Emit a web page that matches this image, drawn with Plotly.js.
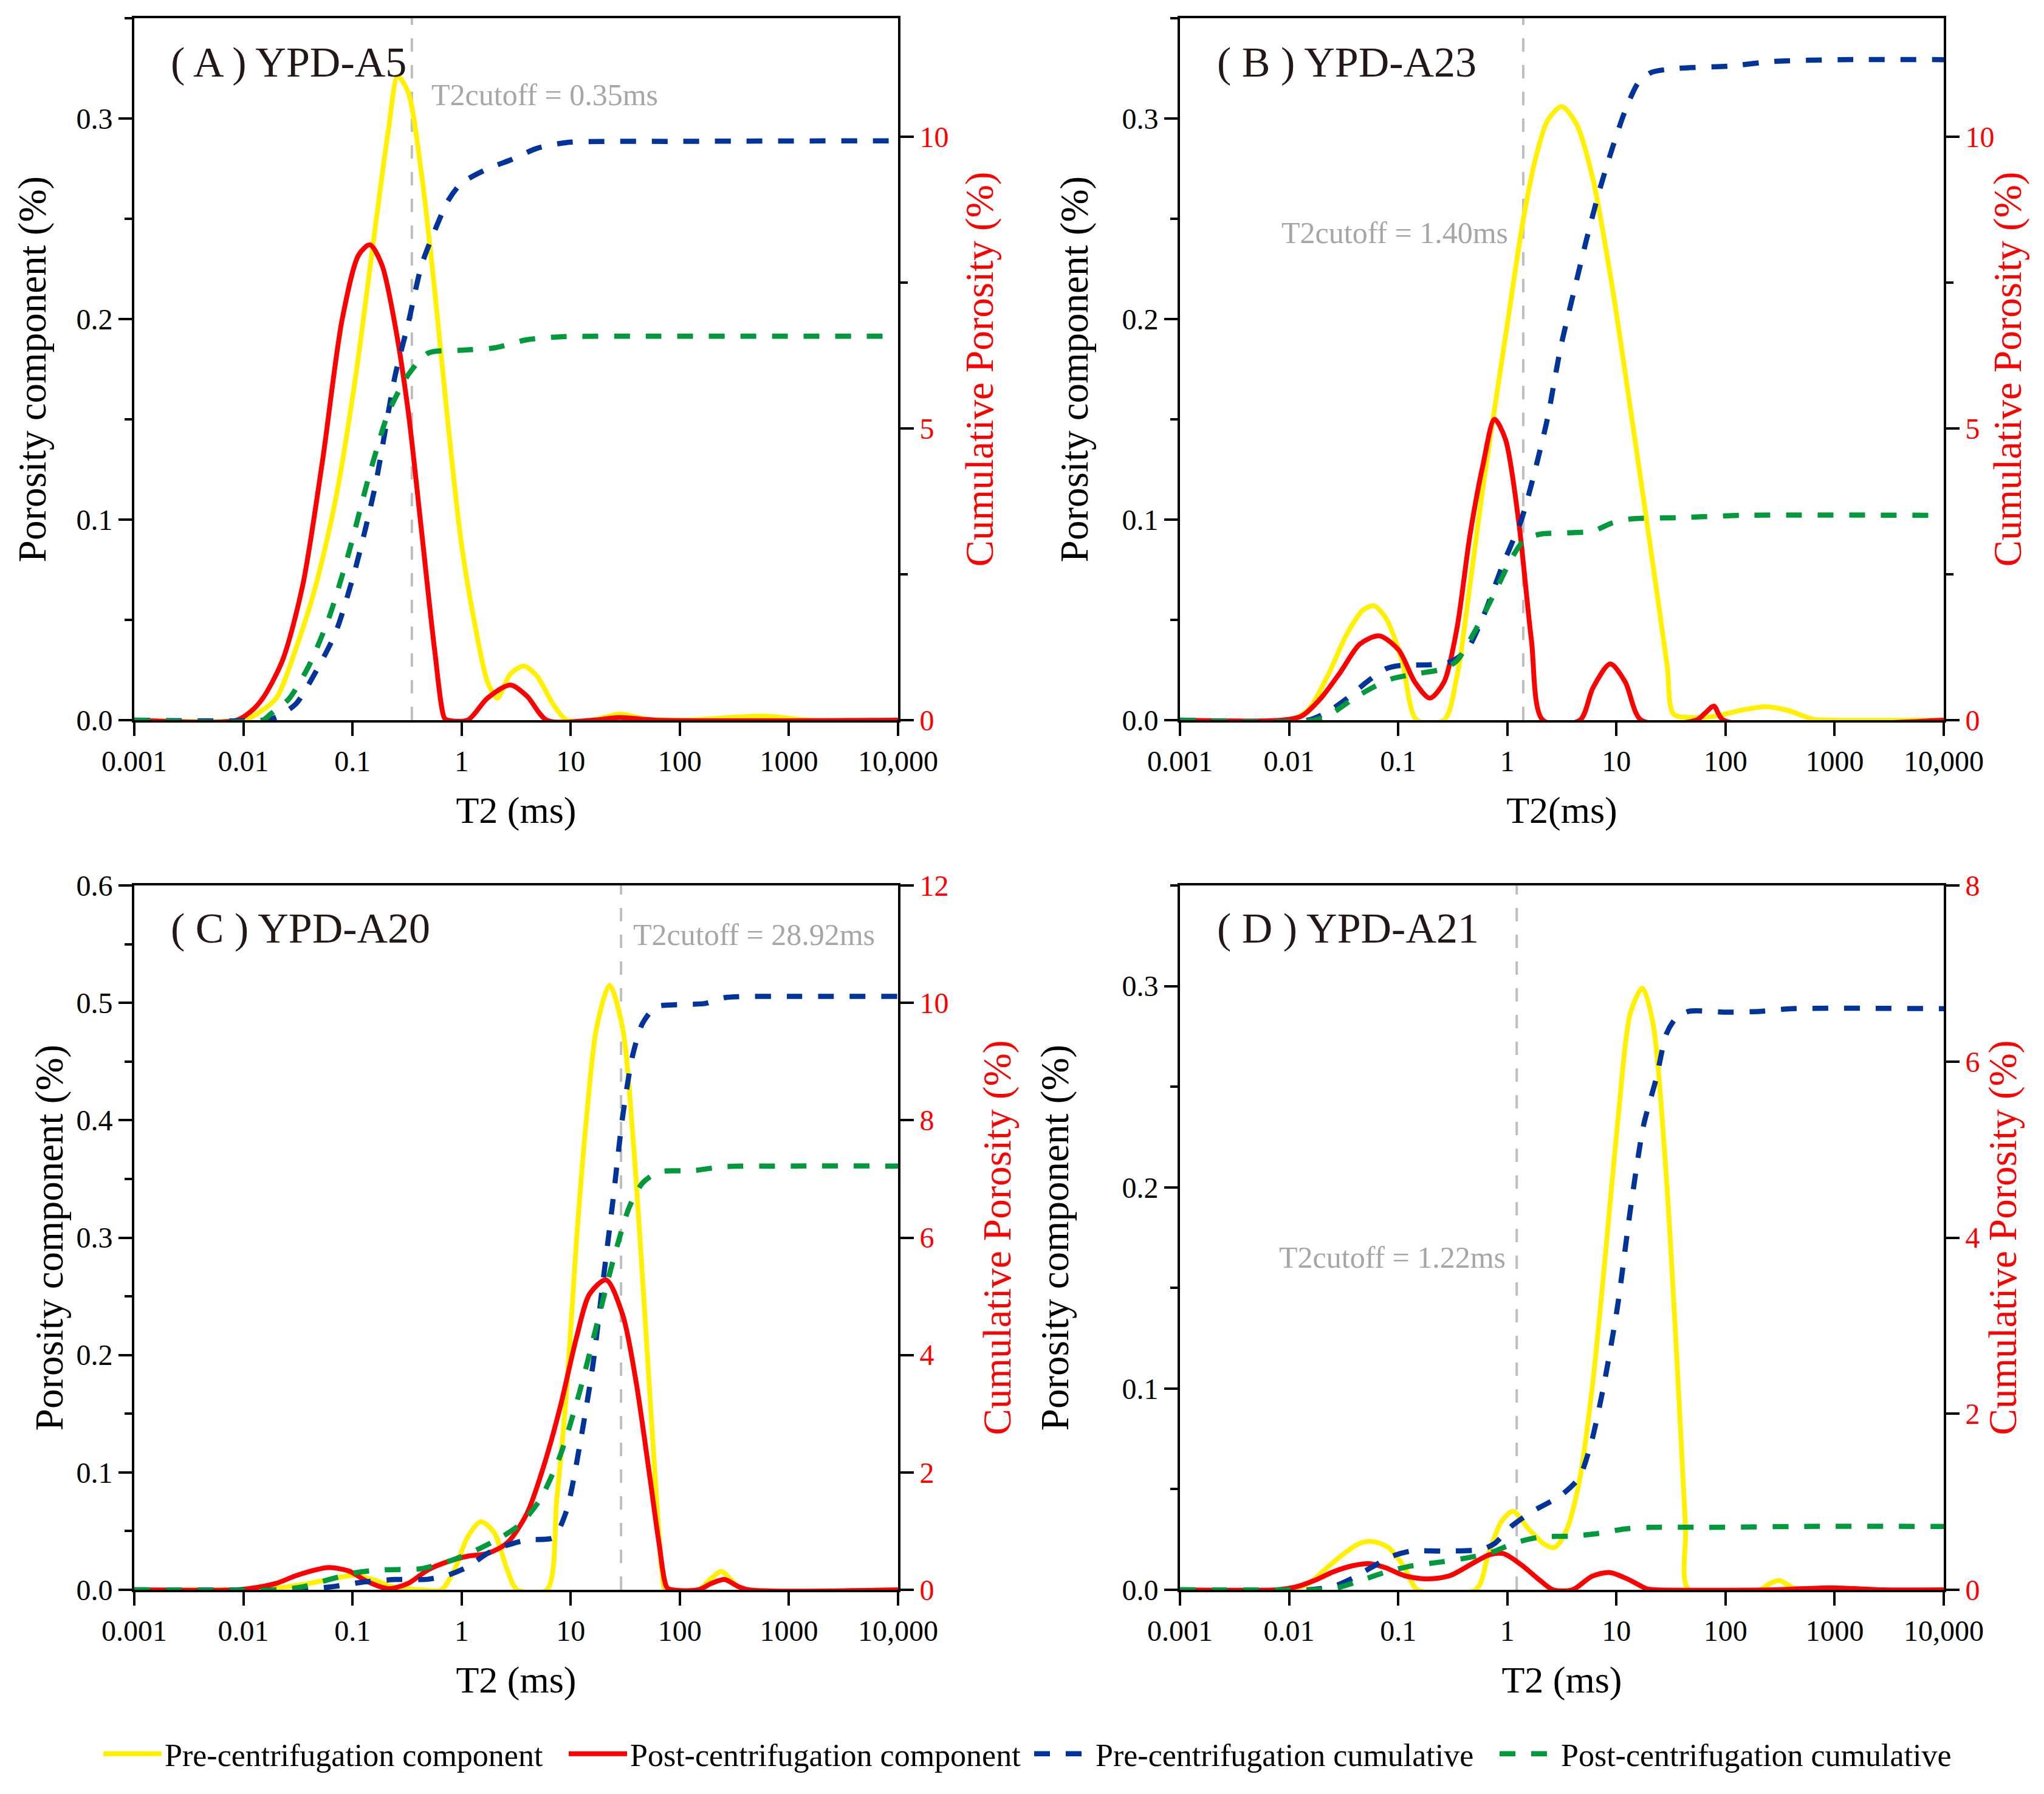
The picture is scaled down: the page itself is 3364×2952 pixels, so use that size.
<!DOCTYPE html>
<html><head><meta charset="utf-8">
<script src="https://cdn.plot.ly/plotly-3.0.1.min.js"></script>
<style>html,body{margin:0;padding:0;background:#fff}</style>
</head><body><div id="chart" style="width:3364px;height:2952px"></div>
<script>
// ---------- data ----------
const xTickVals = [0.001, 0.01, 0.1, 1, 10, 100, 1000, 10000];
const xTickText = ['0.001', '0.01', '0.1', '1', '10', '100', '1000', '10,000'];
const sampleNames = ['( A ) YPD-A5', '( B ) YPD-A23', '( C ) YPD-A20', '( D ) YPD-A21'];
const cutoffs = [0.35, 1.40, 28.92, 1.22];
const seriesNames = ['Pre-centrifugation component', 'Post-centrifugation component', 'Pre-centrifugation cumulative', 'Post-centrifugation cumulative'];

// Panel A
const A_pre_T = [0.001, 0.01, 0.0132, 0.02, 0.03, 0.046, 0.07, 0.106, 0.161, 0.213, 0.26, 0.324, 0.43, 0.57, 0.75, 0.99, 1.31, 1.73, 2.12, 2.8, 3.7, 4.9, 6.9, 9.2, 16, 28, 49, 110, 600, 1500, 10000];
const A_pre = [0, 0, 0.003, 0.011, 0.035, 0.067, 0.11, 0.17, 0.245, 0.294, 0.321, 0.313, 0.272, 0.213, 0.148, 0.089, 0.049, 0.019, 0.011, 0.023, 0.027, 0.022, 0.008, 0, 0, 0.003, 0.0005, 0, 0.002, 0, 0];
const A_post_T = [0.001, 0.0087, 0.0115, 0.0151, 0.0229, 0.0349, 0.053, 0.0805, 0.114, 0.1445, 0.186, 0.2455, 0.324, 0.43, 0.566, 0.697, 0.75, 1.135, 1.73, 2.8, 3.97, 6.04, 16, 28, 60, 10000];
const A_post = [0, 0, 0.004, 0.011, 0.030, 0.067, 0.129, 0.20, 0.232, 0.237, 0.227, 0.197, 0.154, 0.094, 0.035, 0.001, 0, 0, 0.011, 0.0175, 0.012, 0, 0, 0.0013, 0, 0];
const A_preCum_T = [0.001, 0.0151, 0.02, 0.0303, 0.0461, 0.07, 0.1064, 0.161, 0.2455, 0.324, 0.43, 0.57, 0.75, 0.99, 1.73, 2.8, 4.9, 9.2, 100, 10000];
const A_preCum = [0, 0, 0.05, 0.28, 0.83, 1.5, 2.6, 4.0, 5.9, 6.8, 7.8, 8.4, 8.9, 9.2, 9.45, 9.6, 9.8, 9.9, 9.92, 9.93];
const A_postCum_T = [0.001, 0.0151, 0.0174, 0.0263, 0.0398, 0.061, 0.0925, 0.1406, 0.2133, 0.324, 0.492, 0.99, 1.98, 3.97, 7.98, 63, 10000];
const A_postCum = [0, 0, 0.09, 0.37, 0.93, 1.76, 2.87, 4.16, 5.27, 5.92, 6.29, 6.34, 6.38, 6.52, 6.57, 6.58, 6.58];

// Panel B
const B_pre_T = [0.001, 0.0099, 0.0149, 0.0225, 0.0339, 0.0478, 0.0601, 0.0769, 0.108, 0.148, 0.263, 0.346, 0.454, 0.597, 0.783, 1.03, 1.355, 1.778, 2.34, 3.155, 4.325, 6.08, 9.16, 13.8, 20.8, 29.2, 33.5, 54, 81.5, 140.6, 227, 366, 632, 953, 10000];
const B_pre = [0, 0, 0.005, 0.022, 0.043, 0.055, 0.057, 0.051, 0.030, 0, 0, 0.022, 0.067, 0.116, 0.159, 0.202, 0.245, 0.278, 0.299, 0.306, 0.297, 0.270, 0.216, 0.151, 0.084, 0.027, 0.003, 0.0013, 0.002, 0.005, 0.0067, 0.005, 0.0005, 0, 0];
const B_post_T = [0.001, 0.00865, 0.013, 0.0196, 0.0296, 0.0446, 0.0671, 0.101, 0.142, 0.195, 0.263, 0.346, 0.454, 0.597, 0.764, 0.962, 1.265, 1.663, 2.12, 4.63, 6.08, 8.79, 12.05, 16.9, 54, 66.4, 78.2, 96, 10000];
const B_post = [0, 0, 0.002, 0.011, 0.024, 0.038, 0.042, 0.035, 0.019, 0.011, 0.019, 0.046, 0.092, 0.127, 0.150, 0.140, 0.100, 0.040, 0, 0, 0.016, 0.028, 0.019, 0, 0, 0.004, 0.007, 0, 0];
const B_preCum_T = [0.001, 0.0149, 0.0225, 0.0339, 0.0511, 0.0769, 0.108, 0.1995, 0.301, 0.425, 0.597, 0.899, 1.355, 1.778, 2.34, 3.076, 4.036, 5.31, 6.97, 9.16, 12.05, 15.8, 20.8, 35.9, 107, 279, 1096, 10000];
const B_preCum = [0, 0, 0.14, 0.37, 0.65, 0.88, 0.94, 0.95, 1.0, 1.2, 1.76, 2.64, 3.45, 4.25, 5.18, 6.38, 7.31, 8.23, 9.07, 9.8, 10.45, 10.92, 11.1, 11.17, 11.21, 11.29, 11.32, 11.32];
const B_postCum_T = [0.001, 0.0171, 0.0258, 0.0389, 0.0585, 0.0881, 0.152, 0.263, 0.346, 0.52, 0.783, 1.10, 1.45, 2.04, 3.52, 6.08, 9.16, 13.8, 35.9, 140.6, 10000];
const B_postCum = [0, 0, 0.14, 0.37, 0.56, 0.71, 0.80, 0.88, 1.02, 1.57, 2.22, 2.78, 3.10, 3.19, 3.21, 3.24, 3.38, 3.45, 3.47, 3.51, 3.51];

// Panel C
const C_pre_T = [0.001, 0.00867, 0.02, 0.0401, 0.07, 0.1064, 0.1614, 0.2455, 0.4285, 0.65, 0.859, 1.135, 1.5, 1.98, 2.62, 3.23, 6.04, 7.45, 9.16, 11.3, 13.9, 17.2, 22.7, 30.0, 36.9, 45.5, 56.1, 69.2, 74.1, 148, 195, 240, 316, 389, 10000];
const C_pre = [0, 0, 0.0014, 0.0055, 0.010, 0.0124, 0.008, 0.002, 0, 0, 0.017, 0.045, 0.058, 0.049, 0.017, 0, 0, 0.077, 0.169, 0.298, 0.40, 0.478, 0.515, 0.478, 0.390, 0.266, 0.132, 0.0124, 0, 0, 0.010, 0.0157, 0.0055, 0, 0];
const C_post_T = [0.001, 0.00867, 0.0132, 0.02, 0.0303, 0.0461, 0.061, 0.0925, 0.1406, 0.2133, 0.3243, 0.492, 0.748, 1.135, 1.726, 2.62, 3.97, 5.64, 7.98, 11.3, 14.9, 21.1, 30.0, 39.6, 52.4, 64.4, 76.2, 85.1, 148, 195, 257, 339, 427, 10000];
const C_post = [0, 0, 0.002, 0.0055, 0.012, 0.017, 0.019, 0.016, 0.0065, 0.001, 0.0055, 0.017, 0.024, 0.0286, 0.031, 0.040, 0.065, 0.105, 0.155, 0.215, 0.252, 0.264, 0.234, 0.178, 0.10, 0.040, 0.002, 0, 0, 0.0055, 0.0088, 0.003, 0, 0];
const C_preCum_T = [0.001, 0.02, 0.0401, 0.07, 0.122, 0.2455, 0.492, 0.748, 1.135, 1.726, 2.62, 3.97, 6.93, 9.16, 12.1, 16.0, 19.7, 24.3, 30.0, 36.9, 45.5, 60.1, 97.7, 171, 259, 1047, 10000];
const C_preCum = [0, 0, 0.02, 0.06, 0.13, 0.175, 0.18, 0.25, 0.39, 0.62, 0.76, 0.85, 0.89, 1.35, 2.46, 3.84, 5.23, 6.61, 8.08, 9.10, 9.65, 9.93, 9.97, 9.99, 10.09, 10.11, 10.11];
const C_postCum_T = [0.001, 0.02, 0.0349, 0.061, 0.1064, 0.186, 0.4285, 0.748, 1.306, 2.28, 3.46, 5.25, 7.98, 12.1, 17.2, 24.3, 34.4, 45.5, 64.4, 129, 259, 1047, 10000];
const C_postCum = [0, 0, 0.05, 0.175, 0.29, 0.34, 0.36, 0.48, 0.66, 0.89, 1.12, 1.54, 2.28, 3.38, 4.49, 5.59, 6.52, 6.93, 7.12, 7.14, 7.21, 7.22, 7.22];

// Panel D
const D_pre_T = [0.001, 0.00986, 0.0149, 0.0223, 0.0337, 0.0442, 0.0579, 0.0815, 0.1146, 0.1507, 0.513, 0.673, 0.885, 1.13, 1.524, 2.143, 2.704, 3.45, 4.54, 5.96, 7.82, 10.3, 13.5, 17.3, 21.7, 28.6, 35.0, 43.0, 46.0, 206, 252, 310, 406, 467, 10000];
const D_pre = [0, 0, 0.003, 0.011, 0.019, 0.023, 0.024, 0.021, 0.011, 0, 0, 0.018, 0.034, 0.039, 0.031, 0.023, 0.021, 0.029, 0.053, 0.099, 0.163, 0.233, 0.287, 0.299, 0.281, 0.206, 0.125, 0.031, 0, 0, 0.003, 0.0046, 0.0013, 0, 0];
const D_post_T = [0.001, 0.0075, 0.0113, 0.017, 0.0256, 0.0385, 0.0542, 0.0762, 0.1146, 0.1845, 0.297, 0.513, 0.692, 0.92, 1.33, 2.0, 2.63, 3.96, 5.96, 8.61, 12.6, 19.0, 23.3, 270, 920, 2754, 10000];
const D_post = [0, 0, 0.0013, 0.0046, 0.009, 0.012, 0.013, 0.011, 0.007, 0.0054, 0.007, 0.014, 0.0175, 0.018, 0.0126, 0.0046, 0, 0, 0.0067, 0.0086, 0.0054, 0.0005, 0, 0, 0.001, 0, 0];
const D_preCum_T = [0.001, 0.0149, 0.0256, 0.0385, 0.0579, 0.0873, 0.131, 0.259, 0.587, 0.773, 1.086, 1.75, 3.01, 4.54, 5.96, 7.82, 10.3, 13.5, 17.7, 23.3, 28.6, 35.0, 46.0, 104, 206, 406, 10000];
const D_preCum = [0, 0, 0.04, 0.135, 0.26, 0.38, 0.44, 0.44, 0.46, 0.53, 0.72, 0.90, 1.06, 1.27, 1.70, 2.38, 3.24, 4.34, 5.27, 5.82, 6.31, 6.49, 6.57, 6.56, 6.57, 6.60, 6.60];
const D_postCum_T = [0.001, 0.0149, 0.0256, 0.0442, 0.0762, 0.131, 0.259, 0.513, 0.773, 1.16, 2.0, 3.96, 6.82, 11.8, 20.3, 69.2, 535, 10000];
const D_postCum = [0, 0, 0.012, 0.10, 0.20, 0.27, 0.32, 0.38, 0.44, 0.53, 0.60, 0.61, 0.64, 0.69, 0.71, 0.71, 0.72, 0.72];

// ---------- layout / style ----------
const FONT = 'Liberation Serif';
const COLORS = ['#FFF100', '#FF0000', '#00349A', '#009A3D'];
const W = 3364, H = 2952;
const NB = '\u00A0';
const colX = [[221 / W, 1478 / W], [1942 / W, 3199 / W]];
const rowY = [[1 - 1185 / H, 1 - 30 / H], [1 - 2616 / H, 1 - 1457 / H]];

const panels = [
  {pre: [A_pre_T, A_pre], post: [A_post_T, A_post], preCum: [A_preCum_T, A_preCum], postCum: [A_postCum_T, A_postCum],
   col: 0, row: 0, yMax: 0.35, y2Max: 12.03, y2dtick: 5, y2minor: 2.5, xTitle: NB.repeat(4) + 'T2 (ms)', yStand: 30, y2Stand: 29,
   cutText: {x: 708 / W, y: 1 - 156 / H, anchor: 'left'}},
  {pre: [B_pre_T, B_pre], post: [B_post_T, B_post], preCum: [B_preCum_T, B_preCum], postCum: [B_postCum_T, B_postCum],
   col: 1, row: 0, yMax: 0.35, y2Max: 12.03, y2dtick: 5, y2minor: 2.5, xTitle: NB.repeat(3) + 'T2(ms)', yStand: 36, y2Stand: 0,
   cutText: {x: 2484 / W, y: 1 - 383 / H, anchor: 'right'}},
  {pre: [C_pre_T, C_pre], post: [C_post_T, C_post], preCum: [C_preCum_T, C_preCum], postCum: [C_postCum_T, C_postCum],
   col: 0, row: 1, yMax: 0.6, y2Max: 12, y2dtick: 2, y2minor: null, xTitle: NB.repeat(4) + 'T2 (ms)', yStand: 2, y2Stand: 58,
   cutText: {x: 1040 / W, y: 1 - 1538 / H, anchor: 'left'}},
  {pre: [D_pre_T, D_pre], post: [D_post_T, D_post], preCum: [D_preCum_T, D_preCum], postCum: [D_postCum_T, D_postCum],
   col: 1, row: 1, yMax: 0.35, y2Max: 8, y2dtick: 2, y2minor: null, xTitle: NB.repeat(4) + 'T2 (ms)', yStand: 68, y2Stand: 16,
   cutText: {x: 2480 / W, y: 1 - 2069 / H, anchor: 'right'}}
];

const traces = [];
const layout = {
  width: W, height: H,
  margin: {l: 0, r: 0, t: 0, b: 0},
  paper_bgcolor: '#fff', plot_bgcolor: 'rgba(0,0,0,0)',
  font: {family: FONT, color: '#000', size: 48},
  showlegend: true,
  legend: {orientation: 'h', x: 165 / W, xanchor: 'left', y: 1 - 2886 / H, yanchor: 'middle',
           font: {family: FONT, size: 52, color: '#000'}, itemwidth: 96, entrywidth: 655, entrywidthmode: 'pixels',
           bgcolor: 'rgba(0,0,0,0)', traceorder: 'normal'},
  annotations: [], shapes: []
};

panels.forEach((p, i) => {
  const n = i + 1;
  const xa = n === 1 ? 'x' : 'x' + n;
  const ylId = 2 * i + 1, yrId = 2 * i + 2;
  const yl = ylId === 1 ? 'y' : 'y' + ylId;
  const yr = 'y' + yrId;
  const xKey = n === 1 ? 'xaxis' : 'xaxis' + n;
  const ylKey = ylId === 1 ? 'yaxis' : 'yaxis' + ylId;
  const yrKey = 'yaxis' + yrId;

  // cutoff line
  traces.push({x: [cutoffs[i], cutoffs[i]], y: [0, p.yMax], xaxis: xa, yaxis: yl, mode: 'lines',
    line: {color: '#BEBEBE', width: 4, dash: '22px,22px'}, showlegend: false, hoverinfo: 'skip'});

  const common = (k) => ({name: seriesNames[k], legendgroup: 'g' + k, showlegend: i === 0, mode: 'lines', hoverinfo: 'x+y'});
  traces.push(Object.assign(common(0), {x: p.pre[0], y: p.pre[1], xaxis: xa, yaxis: yl,
    line: {color: COLORS[0], width: 8, shape: 'spline', smoothing: 0.8}}));
  traces.push(Object.assign(common(1), {x: p.post[0], y: p.post[1], xaxis: xa, yaxis: yl,
    line: {color: COLORS[1], width: 8, shape: 'spline', smoothing: 0.8}}));
  traces.push(Object.assign(common(2), {x: p.preCum[0], y: p.preCum[1], xaxis: xa, yaxis: yr,
    line: {color: COLORS[2], width: 8.5, dash: '26px,26px', shape: 'spline', smoothing: 0.7}}));
  traces.push(Object.assign(common(3), {x: p.postCum[0], y: p.postCum[1], xaxis: xa, yaxis: yr,
    line: {color: COLORS[3], width: 8.5, dash: '26px,26px', shape: 'spline', smoothing: 0.7}}));

  layout[xKey] = {
    type: 'log', range: [-3, 4], domain: colX[p.col], anchor: yl,
    showline: true, linecolor: '#000', linewidth: 4, mirror: true,
    ticks: 'outside', ticklen: 22, tickwidth: 4, tickcolor: '#000',
    tickvals: xTickVals, ticktext: xTickText,
    tickfont: {family: FONT, size: 48, color: '#000'},
    showgrid: false, zeroline: false,
    title: {text: p.xTitle, font: {family: FONT, size: 62, color: '#000'}, standoff: 34}
  };
  layout[ylKey] = {
    domain: rowY[p.row], anchor: xa, range: [0, p.yMax],
    showline: true, linecolor: '#000', linewidth: 4,
    ticks: 'outside', ticklen: 22, tickwidth: 4, tickcolor: '#000',
    tick0: 0, dtick: 0.1, tickformat: '.1f',
    minor: {ticks: 'outside', ticklen: 12, tickwidth: 4, tickcolor: '#000', dtick: 0.05, showgrid: false},
    tickfont: {family: FONT, size: 48, color: '#000'},
    showgrid: false, zeroline: false,
    title: {text: 'Porosity component (%)', font: {family: FONT, size: 65, color: '#000'}, standoff: p.yStand}
  };
  const yr2 = {
    overlaying: yl, side: 'right', anchor: xa, range: [0, p.y2Max],
    showline: true, linecolor: '#000', linewidth: 4,
    ticks: 'outside', ticklen: 22, tickwidth: 4, tickcolor: '#000',
    tick0: 0, dtick: p.y2dtick,
    tickfont: {family: FONT, size: 48, color: '#FF0000'},
    showgrid: false, zeroline: false,
    title: {text: 'Cumulative Porosity (%)', font: {family: FONT, size: 65, color: '#FF0000'}, standoff: p.y2Stand}
  };
  if (p.y2minor) yr2.minor = {ticks: 'outside', ticklen: 12, tickwidth: 4, tickcolor: '#000', dtick: p.y2minor, showgrid: false};
  layout[yrKey] = yr2;

  // panel label
  layout.annotations.push({xref: 'paper', yref: 'paper', x: (p.col === 0 ? 279 : 2001) / W,
    y: p.row === 0 ? 1 - 103 / H : 1 - 1527 / H, xanchor: 'left', yanchor: 'middle', showarrow: false,
    text: sampleNames[i], font: {family: FONT, size: 70, color: '#231815'}});
  // cutoff text
  layout.annotations.push({xref: 'paper', yref: 'paper', x: p.cutText.x, y: p.cutText.y,
    xanchor: p.cutText.anchor, yanchor: 'middle', showarrow: false,
    text: 'T2cutoff = ' + cutoffs[i].toFixed(2) + 'ms', font: {family: FONT, size: 50, color: '#A6A6A6'}});
});

Plotly.newPlot('chart', traces, layout, {staticPlot: true, displayModeBar: false});
</script>
</body></html>
